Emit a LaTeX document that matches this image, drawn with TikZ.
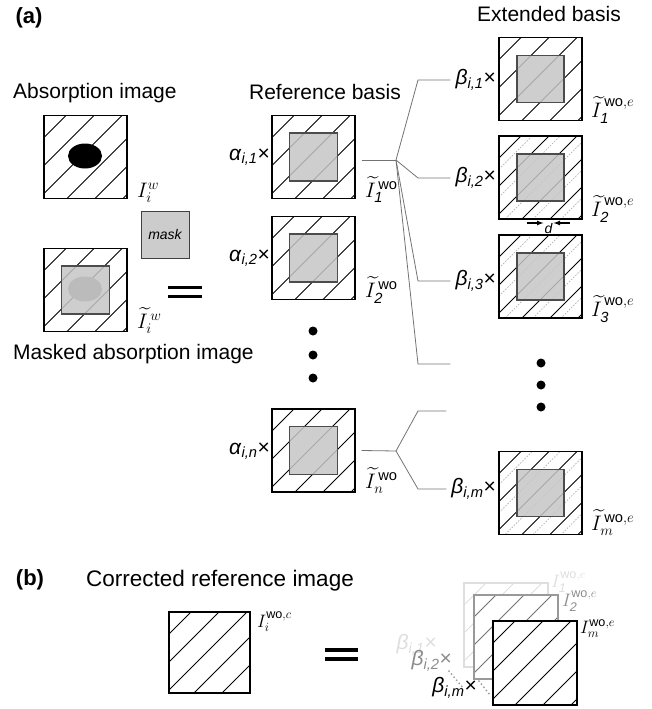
\RequirePackage{fix-cm}
\documentclass[tikz,border=0pt]{standalone}
\usepackage{amsmath}
\usepackage{fontspec}
\setmainfont{Liberation Sans}
\usetikzlibrary{positioning, calc, shapes.geometric}
\newcommand{\coeff}[2]{\textit{#1}\textsubscript{\textit{#2}}×}
\newcommand{\wo}{\text{wo}}

\begin{document}
\begin{tikzpicture}[
          x = 1pt, y = -1pt,
          font = \fontsize{21}{25}\selectfont,
          hatch/.style = {path picture = {
              \foreach \c in {22, 50, 78, 106, 134, 162}
                { \draw [line width = 1pt, #1] ($(path picture bounding box.north west)+(0,\c)$) -- ++(\c,-\c) ; } ;
            }},
          hatch/.default = black,
          hatchd/.style = {path picture = {
              \foreach \c in {33, 61, 89, 117, 145, 173}
                { \draw [line width = .7pt, gray!60, dash pattern = on 1.5pt off 1.5pt] ($(path picture bounding box.north west)+(0,\c)$) -- ++(\c,-\c) ; } ;
              \foreach \c in {22, 50, 78, 106, 134, 162}
                { \draw [line width = 1pt] ($(path picture bounding box.north west)+(0,\c)$) -- ++(\c,-\c) ; } ;
            }}
        ]
          \tikzstyle {frame} = [draw, shape = rectangle, line width = 1.3pt, fill = white, inner sep = 0, minimum size = 83pt]
          \tikzstyle {maskarea} = [draw = black!70, shape = rectangle, line width = 1.1pt, fill = gray!45, fill opacity = .85, inner sep = 0, minimum size = 48pt]
          \tikzstyle {lab} = [inner sep = 0, anchor = base west]
          \tikzstyle {coef} = [inner sep = 0, anchor = east]
          \tikzstyle {wire} = [draw, gray!90!black, line width = .8pt]
          \tikzstyle {small} = [font = \fontsize{18}{21}\selectfont]
          \useasboundingbox (0,0) rectangle (652,709) ;
          % headings
          \path node (pa) [font = \fontsize{22}{26}\selectfont\bfseries] at (29,18) {(a)};
          \path node (pb) [font = \fontsize{22}{26}\selectfont\bfseries] at (30,580) {(b)};
          \path node (habs) [inner sep = 0, anchor = west] at (13,93) {Absorption image};
          \path node (hmsk) [inner sep = 0, anchor = west] at (13,354) {Masked absorption image};
          \path node (href) [inner sep = 0] at (325,92) {Reference basis};
          \path node (hext) [inner sep = 0] at (549,14) {Extended basis};
          \path node (hcor) [inner sep = 0, anchor = west, font = \fontsize{22.5}{26}\selectfont] at (86,581) {Corrected reference image};
          % absorption images
          \path node (abs) [frame, hatch] at (85.5,157) {};
          \path node (spot) [shape = ellipse, fill = black, inner sep = 0, minimum width = 34pt, minimum height = 25pt] at (85,156) {};
          \path node (labs) [lab] at (137,197) {$I_i^w$};
          \path node (msk) [frame, hatch] at (85.5,290) {};
          \path node (mspot) [shape = ellipse, fill = black!50, inner sep = 0, minimum width = 34pt, minimum height = 25pt] at (85,289) {};
          \path node (mskin) [maskarea] at (msk) {};
          \path node (lmsk) [lab] at (137,328) {$\widetilde{I}_i^{\,w}$};
          \path node (mask) [draw = black!75, fill = gray!40, line width = 1pt, minimum width = 48pt, minimum height = 47pt, font = \fontsize{14}{16}\selectfont\itshape] at (165,234.5) {mask};
          \draw [line width = 3.2pt] (168,287.5) -- (202,287.5) (168,296.5) -- (202,296.5) ;
          % reference basis
          \path node (r1) [frame, hatch] at (313.5,157) {};
          \path node (r2) [frame, hatch] at (313.5,258) {};
          \path node (rn) [frame, hatch] at (313.5,450.5) {};
          \foreach \n in {r1, r2, rn}
            { \path node (\n in) [maskarea] at (\n) {} ; } ;
          \path node (a1) [coef] at (270,157) {\coeff{α}{i,1}};
          \path node (a2) [coef] at (270,258) {\coeff{α}{i,2}};
          \path node (an) [coef] at (270,451) {\coeff{α}{i,n}};
          \path node (lr1) [lab] at (365,197) {$\widetilde{I}^{\,\wo}_{\text{\itshape 1}}$};
          \path node (lr2) [lab] at (365,297) {$\widetilde{I}^{\,\wo}_{\text{\itshape 2}}$};
          \path node (lrn) [lab] at (365,488) {$\widetilde{I}^{\,\wo}_{n}$};
          \foreach \y in {331, 355, 378}
            { \fill (313,\y) circle (4.5) ; } ;
          % extended basis
          \path node (e1) [frame, hatch] at (540.5,79) {};
          \path node (e2) [frame, hatchd] at (540.5,177.5) {};
          \path node (e3) [frame, hatchd] at (540.5,276.5) {};
          \path node (em) [frame, hatchd] at (540.5,493) {};
          \foreach \n in {e1, e2, e3, em}
            { \path node (\n in) [maskarea, minimum size = 47pt] at (\n) {} ; } ;
          \path node (b1) [coef] at (496,80) {\coeff{β}{i,1}};
          \path node (b2) [coef] at (496,178) {\coeff{β}{i,2}};
          \path node (b3) [coef] at (496,281) {\coeff{β}{i,3}};
          \path node (bm) [coef] at (496,489) {\coeff{β}{i,m}};
          \path node (le1) [lab] at (591,117) {$\widetilde{I}^{\,\wo,e}_{\text{\itshape 1}}$};
          \path node (le2) [lab] at (591,216) {$\widetilde{I}^{\,\wo,e}_{\text{\itshape 2}}$};
          \path node (le3) [lab] at (591,316) {$\widetilde{I}^{\,\wo,e}_{\text{\itshape 3}}$};
          \path node (lem) [lab] at (591,530) {$\widetilde{I}^{\,\wo,e}_{m}$};
          \foreach \y in {363, 385, 407}
            { \fill (541,\y) circle (4.5) ; } ;
          \path node (dtext) [inner sep = 0, font = \fontsize{14}{16}\selectfont\itshape] at (548.5,228) {d};
          \coordinate (dl) at (527,223) ;
          \coordinate (dr) at (570,223) ;
          \draw [-latex, line width = 1.2pt] (dl) -- ([xshift = -1pt]dl -| dtext.west) ;
          \draw [-latex, line width = 1.2pt] (dr) -- ([xshift = 1pt]dr -| dtext.east) ;
          % place edges
          \coordinate (br1) at (396,160) ;
          \coordinate (brn) at (396,451) ;
          \coordinate (k1) at (418,80) ;
          \coordinate (k2) at (418,178) ;
          \coordinate (k3) at (418,281) ;
          \coordinate (k4) at (418,364) ;
          \coordinate (k5) at (418,411) ;
          \coordinate (k6) at (418,489) ;
          \draw [wire] ([xshift = 6pt, yshift = -3pt]r1.east) -- (br1) ;
          \draw [wire] ([xshift = 6pt]rn.east) -- (brn) ;
          \draw [wire, shorten >= 5pt] (br1) -- (k1) -- (k1 -| b1.west) ;
          \draw [wire, shorten >= 5pt] (br1) -- (k2) -- (k2 -| b2.west) ;
          \draw [wire, shorten >= 5pt] (br1) -- (k3) -- (k3 -| b3.west) ;
          \draw [wire, shorten >= 5pt] (br1) -- (k4) -- (k4 -| b3.west) ;
          \draw [wire, shorten >= 5pt] (brn) -- (k5) -- (k5 -| bm.west) ;
          \draw [wire, shorten >= 5pt] (brn) -- (k6) -- (k6 -| bm.west) ;
          % corrected image
          \path node (cor) [frame, hatch, minimum size = 81pt] at (209.5,652.5) {};
          \path node (lcor) [lab, small] at (257,627) {$I_i^{\wo,c}$};
          \draw [line width = 3.2pt] (325,650) -- (358,650) (325,659) -- (358,659) ;
          \path node (s1) [frame, hatch = black!13, draw = black!13, minimum size = 84pt] at (506,625) {};
          \path node (s2) [frame, hatch = black!55, draw = black!40, minimum size = 84pt] at (516,637) {};
          \path node (sm) [frame, hatch, minimum size = 84pt] at (535,663) {};
          \path node (ls1) [lab, small, text = black!13] at (551,587) {$I^{\wo,e}_{\text{\itshape 1}}$};
          \path node (ls2) [lab, small, text = black!45] at (562,606) {$I^{\wo,e}_{\text{\itshape 2}}$};
          \path node (lsm) [lab, small] at (580,633) {$I^{\wo,e}_{m}$};
          \path node (c1) [coef, text = black!13] at (437,645) {\coeff{β}{i,1}};
          \path node (c2) [coef, text = black!45] at (452,661) {\coeff{β}{i,2}};
          \path node (cm) [coef] at (477,688) {\coeff{β}{i,m}};
          \coordinate (v1) at (449,671) ;
          \coordinate (v2) at (463,688) ;
          \coordinate (v3) at (479,681) ;
          \coordinate (v4) at (490,695) ;
          \draw [black!40, line width = 2pt, line cap = round, dash pattern = on 0pt off 4pt] (v1) -- (v2) (v3) -- (v4) ;
        \end{tikzpicture}
\end{document}
